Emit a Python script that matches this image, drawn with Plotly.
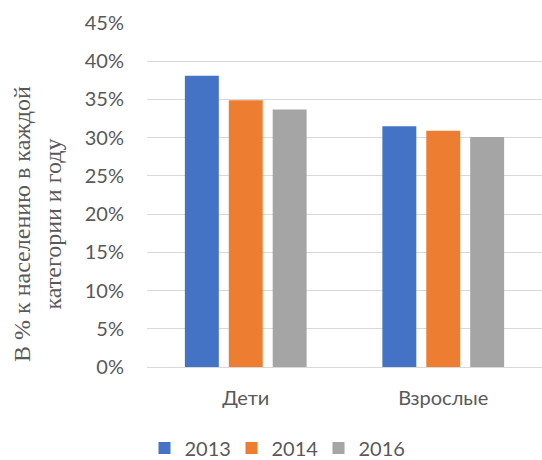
import plotly.graph_objects as go

categories = ["Дети", "Взрослые"]
years = ["2013", "2014", "2016"]
values_2013 = [0.381, 0.315]
values_2014 = [0.349, 0.309]
values_2016 = [0.337, 0.301]
colors = ["#4472C4", "#ED7D31", "#A5A5A5"]
y_title = "В % к населению в каждой<br>категории и году"

fig = go.Figure()
for name, vals, col in zip(years, [values_2013, values_2014, values_2016], colors):
    fig.add_trace(go.Bar(x=categories, y=vals, name=name, marker_color=col,
                         marker_line_width=0))

W, H = 542, 460
ml, mr, mt, mb = 147, 0, 23, 93
pw, ph = W - ml - mr, H - mt - mb

fig.update_layout(
    width=W, height=H,
    margin=dict(l=ml, r=mr, t=mt, b=mb, autoexpand=False),
    paper_bgcolor="white", plot_bgcolor="white",
    barmode="group", bargap=0.333, bargroupgap=0.227,
    font=dict(family="Lato, 'Open Sans', sans-serif", size=20, color="#595959"),
    showlegend=True,
    legend=dict(orientation="h", x=(275 - ml) / pw, xanchor="center",
                y=(H - mb - 448) / ph, yanchor="middle",
                font=dict(size=20, color="#595959"), itemwidth=30,
                entrywidth=42, entrywidthmode="pixels",
                traceorder="normal"),
    xaxis=dict(showgrid=False, showline=False, ticks="", ticklabelstandoff=17,
               automargin=False, tickfont=dict(size=20, color="#595959")),
    yaxis=dict(range=[0, 0.45], dtick=0.05, tickformat=".0%",
               showgrid=True, gridcolor="#D9D9D9", gridwidth=1,
               zeroline=True, zerolinecolor="#D9D9D9", zerolinewidth=1,
               showline=False, ticks="", ticklabelstandoff=22, automargin=False,
               tickfont=dict(size=20, color="#595959")),
    annotations=[dict(text=y_title, textangle=-90, xref="paper", yref="paper",
                      x=(38 - ml) / pw, y=(H - mb - 224) / ph,
                      xanchor="center", yanchor="middle", showarrow=False,
                      font=dict(family="Liberation Serif, Times New Roman, serif",
                                size=24, color="#595959"))],
)

fig.write_html("out.html", config={"displayModeBar": False},
               post_script="document.body.style.margin='0';document.body.style.overflow='hidden';")
